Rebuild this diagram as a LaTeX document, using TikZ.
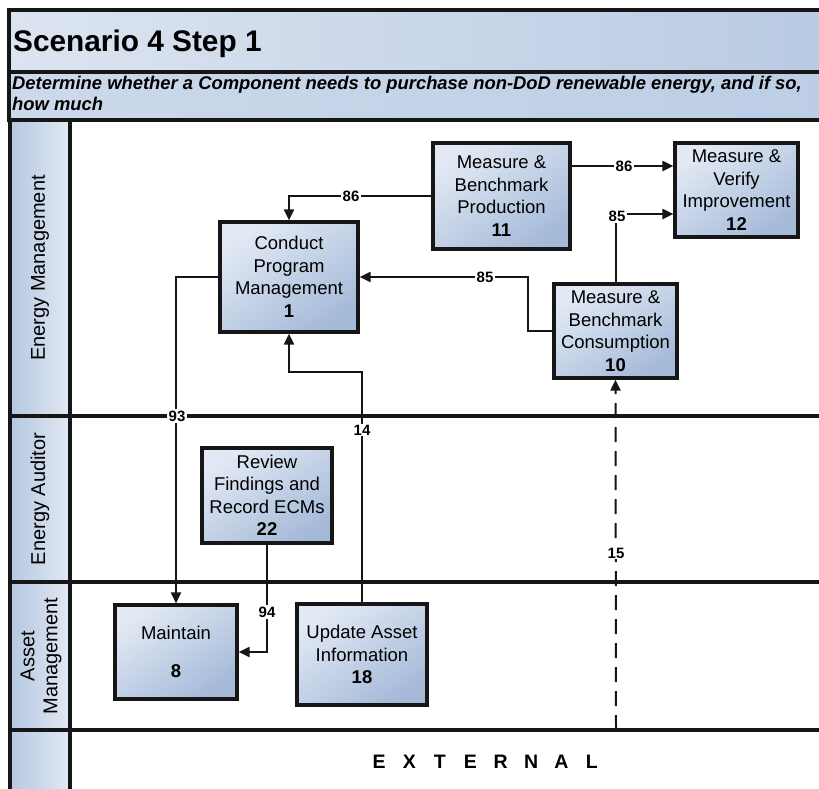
\documentclass[tikz,border=0pt]{standalone}
\usepackage{fontspec}
\setmainfont{Liberation Sans}
\usetikzlibrary{arrows.meta,calc}
\definecolor{boxlight}{HTML}{E2E9F4}
\definecolor{boxdark}{HTML}{A5BAD9}
\definecolor{titleL}{HTML}{DCE4F0}
\definecolor{titleR}{HTML}{B8CAE3}
\definecolor{subL}{HTML}{CDD9EB}
\definecolor{subR}{HTML}{BCCDE5}
\definecolor{hdrL}{HTML}{B5C7E1}
\definecolor{hdrR}{HTML}{E2E9F3}
\definecolor{ink}{HTML}{161616}
\begin{document}
\begin{tikzpicture}[x=1pt,y=-1pt,
  frame/.style={draw=ink, line width=3.2pt},
  proc/.style={draw=ink, line width=3.2pt, top color=boxlight, bottom color=boxdark, shading angle=35,
    align=center, inner sep=0pt, font=\fontsize{18.5}{22.5}\selectfont},
  arr/.style={draw=ink, line width=2pt, -{Triangle[length=11pt,width=10pt]}},
  lbl/.style={fill=white, inner sep=1.2pt, font=\bfseries\fontsize{15}{15}\selectfont},
  lanetxt/.style={rotate=90, align=center, font=\fontsize{20}{23}\selectfont}]
\useasboundingbox (0,0) rectangle (819,789);
\clip (0,0) rectangle (819,789);
% title and subtitle bands
\draw[frame, left color=titleL, right color=titleR] (9,10) rectangle (840,72);
\draw[frame, left color=subL, right color=subR] (9,72) rectangle (840,120);
\node[anchor=base west, inner sep=0pt, font=\bfseries\fontsize{29.8}{32}\selectfont] (title) at (13,52) {Scenario 4 Step 1};
\node[anchor=base west, inner sep=0pt, font=\bfseries\itshape\fontsize{18.4}{20}\selectfont] (sub1) at (12,90) {Determine whether a Component needs to purchase non-DoD renewable energy, and if so,};
\node[anchor=base west, inner sep=0pt, font=\bfseries\itshape\fontsize{18.4}{20}\selectfont] (sub2) at (12,111) {how much};
% lanes
\draw[frame, left color=hdrL, right color=hdrR] (10,120) rectangle (70,820);
\draw[frame] (70,120) -- (840,120);
\draw[frame] (10,416) -- (840,416);
\draw[frame] (10,582) -- (840,582);
\draw[frame] (10,730) -- (840,730);
\node[lanetxt] (laneEM) at (40,268) {Energy Management};
\node[lanetxt] (laneEA) at (40,499) {Energy Auditor};
\node[lanetxt] (laneAM) at (41,656) {Asset\\Management};
\node[anchor=base, inner sep=0pt, font=\bfseries\fontsize{19.5}{19.5}\selectfont] (external) at (485.5,768)
  {\makebox[30.4pt]{E}\makebox[30.4pt]{X}\makebox[30.4pt]{T}\makebox[30.4pt]{E}\makebox[30.4pt]{R}\makebox[30.4pt]{N}\makebox[30.4pt]{A}\makebox[30.4pt]{L}};
% process boxes
\node[proc, minimum width=138pt, minimum height=110pt] (b1) at (289,277) {Conduct\\Program\\Management\\\textbf{1}};
\node[proc, minimum width=137pt, minimum height=106pt] (b11) at (501.5,196) {Measure \&\\Benchmark\\Production\\\textbf{11}};
\node[proc, minimum width=123pt, minimum height=94pt] (b12) at (736.5,190) {Measure \&\\Verify\\Improvement\\\textbf{12}};
\node[proc, minimum width=123pt, minimum height=94pt] (b10) at (615.5,331) {Measure \&\\Benchmark\\Consumption\\\textbf{10}};
\node[proc, minimum width=130pt, minimum height=95pt] (b22) at (267,495.5) {Review\\Findings and\\Record ECMs\\\textbf{22}};
\node[proc, minimum width=122pt, minimum height=94pt] (b8) at (176,652) {Maintain\\[16pt]\textbf{8}};
\node[proc, minimum width=130pt, minimum height=101pt] (b18) at (362,654.5) {Update Asset\\Information\\\textbf{18}};
% connectors
\draw[arr] (b11.west) -| (b1.north);
\node[lbl] (l86a) at (351,196) {86};
\draw[arr] ([yshift=30pt]b11.east) -- ([yshift=24pt]b12.west);
\node[lbl] (l86b) at (624,166) {86};
\draw[arr] (b10.north) |- ([yshift=-24pt]b12.west);
\node[lbl] (l85a) at (617,216) {85};
\draw[arr] (b10.west) -- ++(-24,0) |- (b1.east);
\node[lbl] (l85b) at (485,277) {85};
\draw[arr] (b1.west) -| (b8.north);
\node[lbl] (l93) at (177,416) {93};
\draw[arr] (b18.north) |- ([yshift=-38pt]b1.south) -- (b1.south);
\node[lbl] (l14) at (362,430) {14};
\draw[arr] (b22.south) |- (b8.east);
\node[lbl] (l94) at (267,612) {94};
\coordinate (ext15) at (616,730);
\draw[arr, dash pattern=on 15pt off 9pt] (ext15) -- (b10.south);
\node[lbl] (l15) at (616,553) {15};
\end{tikzpicture}
\end{document}
